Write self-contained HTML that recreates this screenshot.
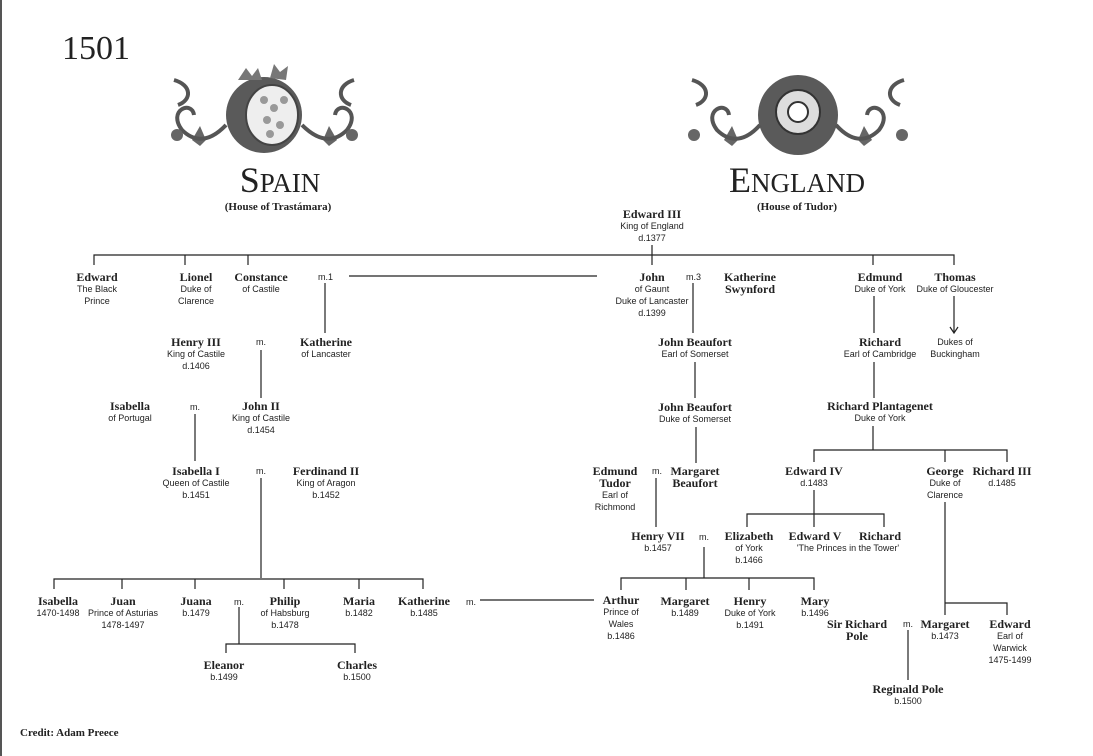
<!DOCTYPE html>
<html><head><meta charset="utf-8"><style>
html,body{margin:0;padding:0;background:#fff}
#c{position:relative;width:1093px;height:756px;overflow:hidden;background:#fff;border-left:2px solid #555;box-sizing:border-box}
.n{position:absolute;width:140px;text-align:center;color:#222}
.n b{display:block;font:bold 12px/12px "Liberation Serif",serif}
.n i{display:block;font:normal 9px/12px "Liberation Sans",sans-serif;font-style:normal}
.m{position:absolute;font:9px "Liberation Sans",sans-serif;color:#222}
svg{position:absolute;left:0;top:0}
.t{position:absolute;font-family:"Liberation Serif",serif;color:#222;text-align:center}
</style></head><body><div id="c">
<svg width="1093" height="756">
<g fill="#555" stroke="none">
<circle cx="262" cy="115" r="38" fill="#5a5a5a"/>
<ellipse cx="270" cy="115" rx="26" ry="30" fill="#eee" stroke="#444" stroke-width="2"/>
<g fill="#999"><circle cx="262" cy="100" r="4"/><circle cx="272" cy="108" r="4"/><circle cx="265" cy="120" r="4"/><circle cx="278" cy="125" r="4"/><circle cx="268" cy="134" r="4"/><circle cx="282" cy="100" r="4"/></g>
<path d="M236 80 l8 -12 l6 8 l6 -8 l4 12z" fill="#777"/>
<path d="M268 78 l4 -14 l6 8 l8 -6 l-2 14z" fill="#777"/>
<circle cx="796" cy="115" r="40" fill="#5a5a5a"/>
<circle cx="796" cy="112" r="22" fill="#ddd" stroke="#333" stroke-width="2"/>
<circle cx="796" cy="112" r="10" fill="#fff" stroke="#333" stroke-width="2"/>
<g fill="#666"><path d="M190 140l8-14 6 14-6 6z"/><path d="M335 140l-8-14-6 14 6 6z"/><path d="M722 140l8-14 6 14-6 6z"/><path d="M870 140l-8-14-6 14 6 6z"/></g>
</g>
<g fill="none" stroke="#555" stroke-width="4">
<path d="M224 125 C205 145 190 140 180 130 C165 110 190 100 192 115"/>
<path d="M172 80 C190 85 190 100 176 105"/>
<path d="M300 125 C320 145 335 140 345 130 C360 110 335 100 333 115"/>
<path d="M352 80 C335 85 335 100 349 105"/>
<path d="M758 125 C740 145 725 140 715 130 C700 110 725 100 727 115"/>
<path d="M690 80 C708 85 708 100 694 105"/>
<path d="M834 125 C852 145 867 140 877 130 C892 110 867 100 865 115"/>
<path d="M902 80 C884 85 884 100 898 105"/>
</g>
<g fill="#666"><circle cx="175" cy="135" r="6"/><circle cx="350" cy="135" r="6"/><circle cx="692" cy="135" r="6"/><circle cx="900" cy="135" r="6"/></g>
<g stroke="#222" stroke-width="1.2" fill="none">
<path d="M92 265V255H952V265M183 255V265M246 255V265M650 245V265M871 255V265"/>
<path d="M347 276H595M323 283V333M691 283V333M693 362V398M694 427V463"/>
<path d="M872 296V333M872 362V398M952 296V332M948 327L952 333L956 327"/>
<path d="M259 350V398M193 414V461M259 478V578"/>
<path d="M52 589V579H421V589M120 579V589M193 579V589M282 579V589M357 579V589"/>
<path d="M478 600H592M237 607V644M224 653V644H353V653"/>
<path d="M871 426V450M812 462V450H1005V462M943 450V462"/>
<path d="M812 490V527M745 527V514H882V527"/>
<path d="M654 478V527M702 547V578M619 590V578H812V590M684 578V590M747 578V590"/>
<path d="M943 502V603M943 603H1005V615M943 603V615M906 630V680"/>
</g>
</svg>
<div class="t" style="left:60px;top:30px;font-size:34px">1501</div>
<div class="t" style="left:178px;top:160px;width:200px;font-size:36px;line-height:40px">S<span style="font-size:27px">PAIN</span></div>
<div class="t" style="left:176px;top:201px;width:200px;font:bold 11px 'Liberation Serif',serif">(House of Trastámara)</div>
<div class="t" style="left:695px;top:160px;width:200px;font-size:36px;line-height:40px">E<span style="font-size:27px">NGLAND</span></div>
<div class="t" style="left:695px;top:201px;width:200px;font:bold 11px 'Liberation Serif',serif">(House of Tudor)</div>

<div class="n" style="left:580px;top:208px"><b>Edward III</b><i>King of England</i><i>d.1377</i></div>
<div class="n" style="left:25px;top:271px"><b>Edward</b><i>The Black</i><i>Prince</i></div>
<div class="n" style="left:124px;top:271px"><b>Lionel</b><i>Duke of</i><i>Clarence</i></div>
<div class="n" style="left:189px;top:271px"><b>Constance</b><i>of Castile</i></div>
<div class="m" style="left:316px;top:272px">m.1</div>
<div class="n" style="left:580px;top:271px"><b>John</b><i>of Gaunt</i><i>Duke of Lancaster</i><i>d.1399</i></div>
<div class="m" style="left:684px;top:272px">m.3</div>
<div class="n" style="left:678px;top:271px"><b>Katherine<br>Swynford</b></div>
<div class="n" style="left:808px;top:271px"><b>Edmund</b><i>Duke of York</i></div>
<div class="n" style="left:883px;top:271px"><b>Thomas</b><i>Duke of Gloucester</i></div>
<div class="n" style="left:124px;top:336px"><b>Henry III</b><i>King of Castile</i><i>d.1406</i></div>
<div class="m" style="left:254px;top:337px">m.</div>
<div class="n" style="left:254px;top:336px"><b>Katherine</b><i>of Lancaster</i></div>
<div class="n" style="left:623px;top:336px"><b>John Beaufort</b><i>Earl of Somerset</i></div>
<div class="n" style="left:808px;top:336px"><b>Richard</b><i>Earl of Cambridge</i></div>
<div class="n" style="left:883px;top:336px"><i>Dukes of</i><i>Buckingham</i></div>
<div class="n" style="left:58px;top:400px"><b>Isabella</b><i>of Portugal</i></div>
<div class="m" style="left:188px;top:402px">m.</div>
<div class="n" style="left:189px;top:400px"><b>John II</b><i>King of Castile</i><i>d.1454</i></div>
<div class="n" style="left:623px;top:401px"><b>John Beaufort</b><i>Duke of Somerset</i></div>
<div class="n" style="left:808px;top:400px"><b>Richard Plantagenet</b><i>Duke of York</i></div>
<div class="n" style="left:124px;top:465px"><b>Isabella I</b><i>Queen of Castile</i><i>b.1451</i></div>
<div class="m" style="left:254px;top:466px">m.</div>
<div class="n" style="left:254px;top:465px"><b>Ferdinand II</b><i>King of Aragon</i><i>b.1452</i></div>
<div class="n" style="left:543px;top:465px"><b>Edmund<br>Tudor</b><i>Earl of</i><i>Richmond</i></div>
<div class="m" style="left:650px;top:466px">m.</div>
<div class="n" style="left:623px;top:465px"><b>Margaret<br>Beaufort</b></div>
<div class="n" style="left:742px;top:465px"><b>Edward IV</b><i>d.1483</i></div>
<div class="n" style="left:873px;top:465px"><b>George</b><i>Duke of</i><i>Clarence</i></div>
<div class="n" style="left:930px;top:465px"><b>Richard III</b><i>d.1485</i></div>
<div class="n" style="left:586px;top:530px"><b>Henry VII</b><i>b.1457</i></div>
<div class="m" style="left:697px;top:532px">m.</div>
<div class="n" style="left:677px;top:530px"><b>Elizabeth</b><i>of York</i><i>b.1466</i></div>
<div class="n" style="left:743px;top:530px"><b>Edward V</b></div>
<div class="n" style="left:808px;top:530px"><b>Richard</b></div>
<div class="n" style="left:776px;top:542px"><i>'The Princes in the Tower'</i></div>
<div class="n" style="left:-14px;top:595px"><b>Isabella</b><i>1470-1498</i></div>
<div class="n" style="left:51px;top:595px"><b>Juan</b><i>Prince of Asturias</i><i>1478-1497</i></div>
<div class="n" style="left:124px;top:595px"><b>Juana</b><i>b.1479</i></div>
<div class="m" style="left:232px;top:597px">m.</div>
<div class="n" style="left:213px;top:595px"><b>Philip</b><i>of Habsburg</i><i>b.1478</i></div>
<div class="n" style="left:287px;top:595px"><b>Maria</b><i>b.1482</i></div>
<div class="n" style="left:352px;top:595px"><b>Katherine</b><i>b.1485</i></div>
<div class="m" style="left:464px;top:597px">m.</div>
<div class="n" style="left:549px;top:594px"><b>Arthur</b><i>Prince of</i><i>Wales</i><i>b.1486</i></div>
<div class="n" style="left:613px;top:595px"><b>Margaret</b><i>b.1489</i></div>
<div class="n" style="left:678px;top:595px"><b>Henry</b><i>Duke of York</i><i>b.1491</i></div>
<div class="n" style="left:743px;top:595px"><b>Mary</b><i>b.1496</i></div>
<div class="n" style="left:785px;top:618px"><b>Sir Richard<br>Pole</b></div>
<div class="m" style="left:901px;top:619px">m.</div>
<div class="n" style="left:873px;top:618px"><b>Margaret</b><i>b.1473</i></div>
<div class="n" style="left:938px;top:618px"><b>Edward</b><i>Earl of</i><i>Warwick</i><i>1475-1499</i></div>
<div class="n" style="left:152px;top:659px"><b>Eleanor</b><i>b.1499</i></div>
<div class="n" style="left:285px;top:659px"><b>Charles</b><i>b.1500</i></div>
<div class="n" style="left:836px;top:683px"><b>Reginald Pole</b><i>b.1500</i></div>
<div class="t" style="left:18px;top:727px;font:bold 11px 'Liberation Serif',serif">Credit: Adam Preece</div>
</div></body></html>
